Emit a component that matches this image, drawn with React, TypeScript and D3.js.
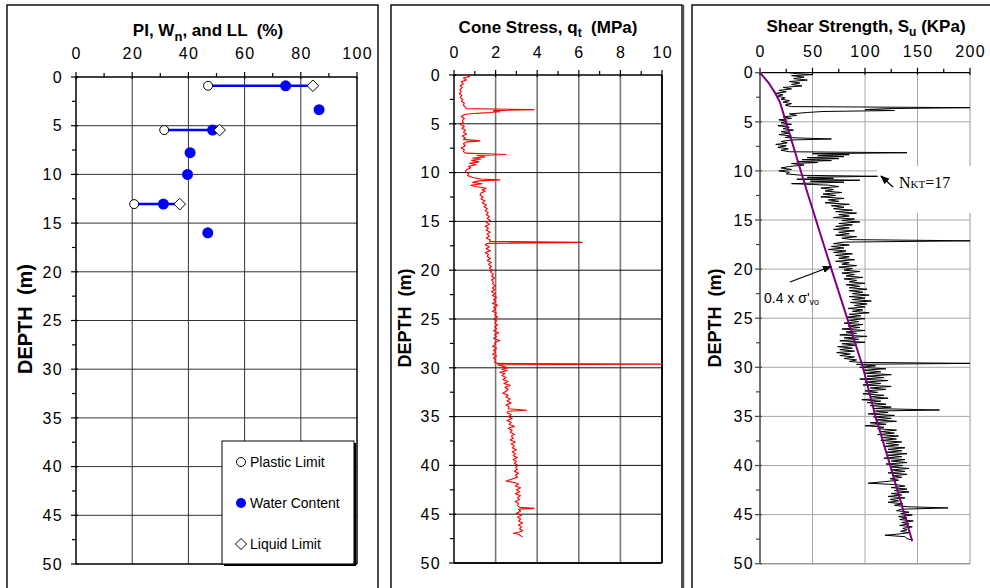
import React from "react";
import * as d3 from "d3";

// ---------- DATA ----------
const atterbergDepth = [0.9, 5.45, 13.05];
const plasticLimit = [47, 31.4, 20.7];
const liquidLimit = [84.3, 51.1, 36.9];
const waterContentDepth = [0.9, 3.35, 5.45, 7.77, 10.0, 13.05, 16.0];
const waterContent = [74.6, 86.5, 48.6, 40.6, 39.7, 31.1, 46.9];

const pctTicks = [0, 20, 40, 60, 80, 100];
const qtTicks = [0, 2, 4, 6, 8, 10];
const suTicks = [0, 50, 100, 150, 200];
const depthTicks = [0, 5, 10, 15, 20, 25, 30, 35, 40, 45, 50];
const legendLabels = ["Plastic Limit", "Water Content", "Liquid Limit"];

// [depth (m), qt (MPa)]
const coneStressTrace: [number, number][] = [
  [0.0, 0.55], [0.15, 0.75], [0.3, 0.45], [0.5, 0.6], [0.7, 0.35], [0.9, 0.45], [1.1, 0.3], [1.3, 0.4],
  [1.5, 0.28], [1.7, 0.35], [1.9, 0.25], [2.1, 0.38], [2.3, 0.3], [2.5, 0.42], [2.7, 0.35], [2.9, 0.5],
  [3.1, 0.45], [3.3, 0.55], [3.45, 0.6], [3.55, 3.85], [3.65, 1.9], [3.75, 2.2], [3.85, 1.7], [3.95, 0.9],
  [4.05, 0.5], [4.25, 0.35], [4.45, 0.5], [4.65, 0.4], [4.85, 0.45], [5.05, 0.3], [5.25, 0.5], [5.45, 0.38],
  [5.65, 0.55], [5.85, 0.45], [6.05, 0.6], [6.25, 0.4], [6.45, 0.55], [6.6, 0.45], [6.75, 1.25], [6.85, 0.6],
  [7.05, 0.45], [7.25, 0.55], [7.45, 0.35], [7.65, 0.5], [7.85, 0.45], [8.0, 0.55], [8.15, 2.5], [8.25, 1.1],
  [8.4, 1.5], [8.5, 0.9], [8.6, 1.3], [8.75, 0.85], [8.9, 1.2], [9.05, 0.75], [9.2, 1.05], [9.35, 0.7],
  [9.5, 0.8], [9.7, 0.6], [9.9, 0.55], [10.1, 0.7], [10.3, 0.65], [10.5, 0.9], [10.65, 1.3], [10.75, 2.2],
  [10.85, 1.2], [11.0, 0.9], [11.15, 1.35], [11.3, 0.8], [11.45, 1.1], [11.6, 1.55], [11.75, 1.35], [11.9, 1.5],
  [12.1, 1.3], [12.3, 1.25], [12.5, 1.4], [12.7, 1.3], [12.9, 1.5], [13.1, 1.35], [13.3, 1.55], [13.5, 1.45],
  [13.7, 1.6], [13.9, 1.5], [14.1, 1.65], [14.3, 1.55], [14.5, 1.7], [14.7, 1.6], [14.9, 1.75], [15.1, 1.55],
  [15.3, 1.7], [15.5, 1.5], [15.7, 1.65], [15.9, 1.55], [16.1, 1.75], [16.3, 1.6], [16.5, 1.7], [16.7, 1.55],
  [16.9, 1.75], [17.05, 1.7], [17.15, 6.15], [17.25, 1.6], [17.4, 1.5], [17.6, 1.7], [17.8, 1.55], [18.0, 1.75],
  [18.2, 1.5], [18.4, 1.65], [18.6, 1.6], [18.8, 1.75], [19.0, 1.6], [19.2, 1.8], [19.4, 1.65], [19.6, 1.8],
  [19.8, 1.7], [20.0, 1.85], [20.2, 1.75], [20.4, 1.9], [20.6, 1.8], [20.8, 1.95], [21.0, 1.8], [21.2, 1.9],
  [21.4, 1.85], [21.6, 2.0], [21.8, 1.85], [22.0, 1.95], [22.2, 1.8], [22.4, 2.0], [22.6, 1.85], [22.8, 2.05],
  [23.0, 1.9], [23.2, 2.0], [23.4, 1.85], [23.6, 2.1], [23.8, 1.9], [24.0, 2.0], [24.2, 1.85], [24.4, 2.05],
  [24.6, 1.95], [24.8, 2.1], [25.0, 1.9], [25.2, 2.05], [25.4, 1.95], [25.6, 2.1], [25.8, 1.95], [26.0, 2.05],
  [26.2, 1.9], [26.4, 2.15], [26.6, 1.95], [26.8, 2.05], [27.0, 1.9], [27.2, 2.2], [27.4, 1.95], [27.6, 2.0],
  [27.8, 1.85], [28.0, 2.05], [28.2, 1.9], [28.4, 2.0], [28.6, 1.85], [28.8, 2.05], [29.0, 1.9], [29.2, 2.0],
  [29.4, 1.95], [29.55, 2.05], [29.62, 10], [29.7, 2.1], [29.85, 2.35], [30.0, 2.6], [30.15, 2.3], [30.3, 2.55],
  [30.45, 2.2], [30.6, 2.45], [30.8, 2.3], [31.0, 2.5], [31.2, 2.35], [31.4, 2.6], [31.6, 2.4], [31.8, 2.7],
  [32.0, 2.45], [32.2, 2.6], [32.4, 2.5], [32.6, 2.35], [32.8, 2.6], [33.0, 2.5], [33.2, 2.7], [33.4, 2.55],
  [33.6, 2.75], [33.8, 2.5], [34.0, 2.65], [34.2, 2.6], [34.35, 3.5], [34.45, 2.6], [34.6, 2.55], [34.8, 2.75],
  [35.0, 2.6], [35.2, 2.8], [35.4, 2.55], [35.6, 2.75], [35.8, 2.65], [36.0, 2.9], [36.2, 2.6], [36.4, 2.8],
  [36.6, 2.7], [36.8, 2.9], [37.0, 2.75], [37.2, 2.85], [37.4, 2.7], [37.6, 2.95], [37.8, 2.75], [38.0, 2.9],
  [38.2, 2.8], [38.4, 3.0], [38.6, 2.8], [38.8, 2.95], [39.0, 2.85], [39.2, 3.05], [39.4, 2.85], [39.6, 3.0],
  [39.8, 2.9], [40.0, 3.1], [40.2, 2.95], [40.4, 3.05], [40.6, 2.9], [40.8, 3.1], [41.0, 2.95], [41.2, 3.05],
  [41.4, 2.8], [41.6, 2.5], [41.75, 2.9], [41.9, 3.1], [42.1, 2.95], [42.3, 3.2], [42.5, 3.0], [42.7, 3.15],
  [42.9, 2.95], [43.1, 3.2], [43.3, 3.05], [43.5, 3.15], [43.7, 2.95], [43.9, 3.1], [44.1, 3.05], [44.3, 3.15],
  [44.4, 3.85], [44.5, 3.1], [44.7, 3.2], [44.9, 3.0], [45.1, 3.25], [45.3, 3.05], [45.5, 3.2], [45.7, 3.1],
  [45.9, 3.3], [46.1, 3.1], [46.3, 3.25], [46.5, 3.15], [46.7, 3.3], [46.85, 3.1], [46.95, 2.85], [47.05, 3.1],
  [47.2, 3.2], [47.35, 3.3],
];

// [depth (m), Su (kPa)]
const shearStrengthTrace: [number, number][] = [
  [0.0, 28], [0.1, 35], [0.2, 50], [0.3, 30], [0.45, 42], [0.6, 32], [0.75, 45], [0.9, 28], [1.05, 38],
  [1.2, 30], [1.35, 40], [1.5, 22], [1.65, 30], [1.8, 18], [1.95, 25], [2.1, 15], [2.25, 22], [2.4, 16],
  [2.55, 24], [2.7, 20], [2.85, 28], [3.0, 22], [3.15, 30], [3.3, 24], [3.45, 30], [3.56, 200], [3.65, 125],
  [3.75, 100], [3.85, 128], [3.95, 60], [4.05, 45], [4.2, 28], [4.35, 35], [4.5, 22], [4.65, 30], [4.8, 18],
  [4.95, 26], [5.1, 20], [5.25, 30], [5.4, 17], [5.55, 28], [5.7, 22], [5.85, 32], [6.0, 20], [6.15, 28],
  [6.3, 18], [6.45, 30], [6.6, 24], [6.75, 68], [6.85, 30], [7.0, 20], [7.15, 26], [7.3, 15], [7.45, 25],
  [7.6, 17], [7.75, 27], [7.9, 20], [8.05, 28], [8.15, 140], [8.25, 50], [8.35, 85], [8.45, 55], [8.55, 80],
  [8.65, 45], [8.75, 75], [8.85, 40], [8.95, 68], [9.05, 35], [9.15, 55], [9.25, 30], [9.4, 42], [9.55, 28],
  [9.7, 20], [9.85, 30], [10.0, 18], [10.15, 28], [10.3, 25], [10.45, 40], [10.55, 112], [10.65, 45],
  [10.75, 70], [10.85, 35], [10.95, 95], [11.05, 48], [11.15, 80], [11.3, 30], [11.45, 65], [11.6, 75],
  [11.75, 58], [11.9, 70], [12.05, 62], [12.2, 78], [12.35, 60], [12.5, 72], [12.65, 58], [12.8, 80],
  [12.95, 65], [13.1, 75], [13.25, 62], [13.4, 85], [13.55, 68], [13.7, 80], [13.85, 70], [14.0, 88],
  [14.15, 72], [14.3, 92], [14.45, 75], [14.6, 85], [14.75, 70], [14.9, 90], [15.05, 78], [15.2, 95],
  [15.35, 75], [15.5, 88], [15.65, 72], [15.8, 85], [15.95, 70], [16.1, 90], [16.25, 75], [16.4, 85],
  [16.55, 72], [16.7, 92], [16.85, 78], [17.0, 88], [17.12, 200], [17.25, 80], [17.4, 70], [17.55, 85],
  [17.7, 68], [17.85, 80], [18.0, 65], [18.15, 82], [18.3, 70], [18.45, 88], [18.6, 72], [18.75, 85],
  [18.9, 75], [19.05, 90], [19.2, 72], [19.35, 85], [19.5, 78], [19.65, 92], [19.8, 75], [19.95, 88],
  [20.1, 80], [20.25, 95], [20.4, 78], [20.55, 90], [20.7, 82], [20.85, 98], [21.0, 80], [21.15, 92],
  [21.3, 85], [21.45, 100], [21.6, 82], [21.75, 95], [21.9, 85], [22.05, 102], [22.2, 85], [22.35, 98],
  [22.5, 88], [22.65, 104], [22.8, 85], [22.95, 100], [23.1, 88], [23.25, 106], [23.4, 86], [23.55, 102],
  [23.7, 90], [23.85, 100], [24.0, 84], [24.15, 98], [24.3, 88], [24.45, 104], [24.6, 85], [24.75, 96],
  [24.9, 82], [25.05, 100], [25.2, 85], [25.35, 94], [25.5, 80], [25.65, 98], [25.8, 84], [25.95, 95],
  [26.1, 78], [26.25, 100], [26.4, 82], [26.55, 92], [26.7, 76], [26.85, 102], [27.0, 80], [27.15, 94],
  [27.3, 76], [27.45, 100], [27.6, 78], [27.75, 92], [27.9, 74], [28.05, 88], [28.2, 76], [28.35, 90],
  [28.5, 73], [28.65, 86], [28.8, 76], [28.95, 90], [29.1, 80], [29.25, 92], [29.4, 85], [29.5, 95],
  [29.6, 200], [29.7, 92], [29.85, 110], [30.0, 95], [30.15, 120], [30.3, 98], [30.45, 115], [30.6, 100],
  [30.75, 125], [30.9, 102], [31.05, 118], [31.2, 95], [31.35, 122], [31.5, 100], [31.65, 115], [31.8, 98],
  [31.95, 125], [32.1, 105], [32.25, 120], [32.4, 100], [32.55, 112], [32.7, 98], [32.85, 118], [33.0, 105],
  [33.15, 122], [33.3, 97], [33.45, 115], [33.6, 102], [33.75, 120], [33.9, 105], [34.05, 125], [34.2, 108],
  [34.35, 171], [34.45, 110], [34.6, 122], [34.75, 103], [34.9, 128], [35.05, 108], [35.2, 125], [35.35, 110],
  [35.5, 130], [35.65, 105], [35.8, 120], [35.95, 100], [36.1, 118], [36.25, 112], [36.4, 130], [36.55, 115],
  [36.7, 128], [36.85, 112], [37.0, 132], [37.15, 117], [37.3, 130], [37.45, 115], [37.6, 135], [37.75, 120],
  [37.9, 132], [38.05, 118], [38.2, 138], [38.35, 122], [38.5, 135], [38.65, 120], [38.8, 140], [38.95, 122],
  [39.1, 135], [39.25, 118], [39.4, 138], [39.55, 125], [39.7, 140], [39.85, 120], [40.0, 136], [40.15, 124],
  [40.3, 142], [40.45, 125], [40.6, 138], [40.75, 122], [40.9, 140], [41.05, 126], [41.2, 135], [41.35, 124],
  [41.5, 132], [41.65, 118], [41.8, 103], [41.95, 130], [42.1, 138], [42.25, 125], [42.4, 140], [42.55, 128],
  [42.7, 142], [42.85, 125], [43.0, 135], [43.15, 122], [43.3, 138], [43.45, 124], [43.6, 132], [43.75, 122],
  [43.9, 136], [44.05, 128], [44.2, 140], [44.32, 179], [44.45, 135], [44.6, 130], [44.75, 142], [44.9, 134],
  [45.05, 145], [45.2, 132], [45.35, 140], [45.5, 133], [45.65, 146], [45.8, 135], [45.95, 142], [46.1, 133],
  [46.25, 145], [46.4, 136], [46.55, 140], [46.7, 134], [46.85, 142], [47.0, 130], [47.1, 119], [47.25, 138],
  [47.45, 140], [47.6, 145],
];

// [depth (m), 0.4 x sigma'vo (kPa)]
const effectiveStressLine: [number, number][] = [
  [0, 0], [1, 8], [2, 14], [3, 19], [12, 44.5], [20, 68], [30, 98], [35, 110], [40, 124], [47.7, 145],
];

// ---------- STYLE ----------
const FONT = "Arial, 'Liberation Sans', Helvetica, sans-serif";

type Pt = [number, number];

function Axes(props: {
  x: d3.ScaleLinear<number, number>;
  y: d3.ScaleLinear<number, number>;
  xTicks: number[];
  xMinor: number[];
  yLabelX: number;
  xLabelY: number;
  gridV: string;
  gridVW: number;
  gridH: string;
  gridHW: number;
  leftColor: string;
  rightColor: string;
  rightW: number;
  bottomColor: string;
  bottomW: number;
}) {
  const { x, y } = props;
  const [x0, x1] = x.range();
  const [y0, y1] = y.range();
  const minorDepth = [2.5, 7.5, 12.5, 17.5, 22.5, 27.5, 32.5, 37.5, 42.5, 47.5];
  return (
    <g>
      {props.xTicks.slice(1, -1).map((t) => (
        <line key={"gv" + t} x1={x(t)} x2={x(t)} y1={y0} y2={y1} stroke={props.gridV} strokeWidth={props.gridVW} />
      ))}
      {depthTicks.slice(1, -1).map((t) => (
        <line key={"gh" + t} x1={x0} x2={x1} y1={y(t)} y2={y(t)} stroke={props.gridH} strokeWidth={props.gridHW} />
      ))}
      <line x1={x1} x2={x1} y1={y0} y2={y1} stroke={props.rightColor} strokeWidth={props.rightW} />
      <line x1={x0} x2={x1} y1={y1} y2={y1} stroke={props.bottomColor} strokeWidth={props.bottomW} />
      <line x1={x0} x2={x1} y1={y0} y2={y0} stroke="#000" strokeWidth={1.3} />
      <line x1={x0} x2={x0} y1={y0} y2={y1} stroke={props.leftColor} strokeWidth={1.5} />
      {props.xTicks.map((t) => (
        <line key={"xt" + t} x1={x(t)} x2={x(t)} y1={y0 - 5} y2={y0 + 2} stroke="#000" strokeWidth={1.2} />
      ))}
      {props.xMinor.map((t) => (
        <line key={"xm" + t} x1={x(t)} x2={x(t)} y1={y0 - 4} y2={y0} stroke="#000" strokeWidth={1.2} />
      ))}
      {depthTicks.map((t) => (
        <line key={"yt" + t} x1={x0 - 5} x2={x0 + 2} y1={y(t)} y2={y(t)} stroke={props.leftColor} strokeWidth={1.2} />
      ))}
      {minorDepth.map((t) => (
        <line key={"ym" + t} x1={x0 - 4} x2={x0} y1={y(t)} y2={y(t)} stroke={props.leftColor} strokeWidth={1.2} />
      ))}
      {props.xTicks.map((t) => (
        <text key={"xl" + t} x={x(t) + 0.7} y={props.xLabelY} textAnchor="middle" fontSize={16} letterSpacing={1.4} fontFamily={FONT} fill="#000">
          {t}
        </text>
      ))}
      {depthTicks.map((t) => (
        <text key={"yl" + t} x={props.yLabelX} y={y(t)} dy="0.36em" textAnchor="end" fontSize={16} letterSpacing={1.4} fontFamily={FONT} fill="#000">
          {t}
        </text>
      ))}
    </g>
  );
}

function DepthLabel({ cx, cy, size }: { cx: number; cy: number; size: number }) {
  return (
    <text
      transform={`translate(${cx},${cy}) rotate(-90)`}
      textAnchor="middle"
      dominantBaseline="central"
      fontSize={size}
      fontWeight="bold"
      fontFamily={FONT}
      style={{ whiteSpace: "pre" }}
    >
      {"DEPTH  (m)"}
    </text>
  );
}

export default function App() {
  // Panel 1
  const x1 = d3.scaleLinear().domain([0, 100]).range([76, 357]);
  const y1 = d3.scaleLinear().domain([0, 50]).range([77, 564]);
  // Panel 2
  const x2 = d3.scaleLinear().domain([0, 10]).range([454, 662]);
  const y2 = d3.scaleLinear().domain([0, 50]).range([75, 563]);
  // Panel 3
  const x3 = d3.scaleLinear().domain([0, 200]).range([760, 970]);
  const y3 = d3.scaleLinear().domain([0, 50]).range([72.7, 563.7]);

  const qtLine = d3
    .line<Pt>()
    .x((d) => x2(d[1]))
    .y((d) => y2(d[0]))(coneStressTrace) as string;
  const suLine = d3
    .line<Pt>()
    .x((d) => x3(d[1]))
    .y((d) => y3(d[0]))(shearStrengthTrace) as string;
  const sigLine = d3
    .line<Pt>()
    .x((d) => x3(d[1]))
    .y((d) => y3(d[0]))(effectiveStressLine) as string;

  const diamond = (cx: number, cy: number, r: number) =>
    `M${cx},${cy - r}L${cx + r},${cy}L${cx},${cy + r}L${cx - r},${cy}Z`;

  const lx = 241;
  const legendY = [462, 503, 544];

  return (
    <svg
      width={990}
      height={588}
      viewBox="0 0 990 588"
      style={{ position: "absolute", left: 0, top: 0, background: "#fff" }}
      fontFamily={FONT}
    >
      <rect x={0} y={0} width={990} height={588} fill="#fff" />
      <defs>
        <marker id="ah" viewBox="0 0 10 10" refX="9" refY="5" markerWidth="7" markerHeight="7" orient="auto-start-reverse">
          <path d="M0,1 L10,5 L0,9 Z" fill="#000" />
        </marker>
      </defs>

      {/* Panel frames */}
      <rect x={7} y={5} width={371} height={600} fill="none" stroke="#000" strokeWidth={1.4} />
      <rect x={391} y={5} width={291} height={600} fill="none" stroke="#000" strokeWidth={1.4} />
      <line x1={683.5} x2={683.5} y1={5} y2={588} stroke="#555" strokeWidth={1.5} />
      <rect x={692} y={5} width={320} height={600} fill="none" stroke="#000" strokeWidth={1.4} />

      {/* ---------- Panel 1 ---------- */}
      <text x={208} y={36} textAnchor="middle" fontSize={17} fontWeight="bold" style={{ whiteSpace: "pre" }}>
        <tspan>PI, W</tspan>
        <tspan fontSize={13} dy={5}>n</tspan>
        <tspan dy={-5}>{", and LL  (%)"}</tspan>
      </text>
      <Axes
        x={x1}
        y={y1}
        xTicks={pctTicks}
        xMinor={[10, 30, 50, 70, 90]}
        yLabelX={63}
        xLabelY={59}
        gridV="#333"
        gridVW={1}
        gridH="#333"
        gridHW={1}
        leftColor="#000"
        rightColor="#000"
        rightW={1.5}
        bottomColor="#000"
        bottomW={1.5}
      />
      <DepthLabel cx={25} cy={319} size={20} />

      {atterbergDepth.map((d, i) => (
        <line key={"al" + i} x1={x1(plasticLimit[i])} x2={x1(liquidLimit[i])} y1={y1(d)} y2={y1(d)} stroke="#0000ff" strokeWidth={2.5} />
      ))}
      {waterContentDepth.map((d, i) => (
        <circle key={"wc" + i} cx={x1(waterContent[i])} cy={y1(d)} r={5.5} fill="#0000ff" />
      ))}
      {atterbergDepth.map((d, i) => (
        <circle key={"pl" + i} cx={x1(plasticLimit[i])} cy={y1(d)} r={4.5} fill="#fff" stroke="#000" strokeWidth={1} />
      ))}
      {atterbergDepth.map((d, i) => (
        <path key={"ll" + i} d={diamond(x1(liquidLimit[i]), y1(d), 5.8)} fill="#fff" stroke="#000" strokeWidth={1} />
      ))}

      {/* Legend */}
      <rect x={224} y={443} width={132} height={123} fill="#000" />
      <rect x={222} y={441} width={132} height={123} fill="#fff" stroke="#000" strokeWidth={1} />
      <circle cx={lx} cy={legendY[0]} r={4.5} fill="#fff" stroke="#000" strokeWidth={1} />
      <circle cx={lx} cy={legendY[1]} r={5} fill="#0000ff" />
      <path d={diamond(lx, legendY[2], 5.5)} fill="#fff" stroke="#000" strokeWidth={1} />
      {legendLabels.map((t, i) => (
        <text key={t} x={250} y={legendY[i]} dy="0.36em" fontSize={14}>
          {t}
        </text>
      ))}

      {/* ---------- Panel 2 ---------- */}
      <text x={548} y={32.5} textAnchor="middle" fontSize={17} fontWeight="bold" style={{ whiteSpace: "pre" }}>
        <tspan>Cone Stress, q</tspan>
        <tspan fontSize={12} dy={4}>t</tspan>
        <tspan dy={-4}>{"  (MPa)"}</tspan>
      </text>
      <Axes
        x={x2}
        y={y2}
        xTicks={qtTicks}
        xMinor={[1, 3, 5, 7, 9]}
        yLabelX={441}
        xLabelY={57.5}
        gridV="#777"
        gridVW={1.6}
        gridH="#111"
        gridHW={1}
        leftColor="#000"
        rightColor="#111"
        rightW={2}
        bottomColor="#111"
        bottomW={2}
      />
      <DepthLabel cx={405} cy={318} size={18} />
      <path d={qtLine} fill="none" stroke="#ff0000" strokeWidth={1.1} strokeLinejoin="round" />

      {/* ---------- Panel 3 ---------- */}
      <text x={866} y={32} textAnchor="middle" fontSize={17} fontWeight="bold" style={{ whiteSpace: "pre" }}>
        <tspan>Shear Strength, S</tspan>
        <tspan fontSize={12} dy={4}>u</tspan>
        <tspan dy={-4}>{" (KPa)"}</tspan>
      </text>
      <Axes
        x={x3}
        y={y3}
        xTicks={suTicks}
        xMinor={[25, 75, 125, 175]}
        yLabelX={754}
        xLabelY={57}
        gridV="#a8a8a8"
        gridVW={1}
        gridH="#a8a8a8"
        gridHW={1}
        leftColor="#444"
        rightColor="#a8a8a8"
        rightW={1.2}
        bottomColor="#999"
        bottomW={1.6}
      />
      <DepthLabel cx={714.5} cy={318} size={18} />
      {/* label box covering grid */}
      <rect x={877} y={166} width={110} height={47} fill="#fff" />
      <path d={suLine} fill="none" stroke="#000" strokeWidth={1} strokeLinejoin="round" />
      <path d={sigLine} fill="none" stroke="#800080" strokeWidth={2} />

      {/* Annotations */}
      <line x1={893} y1={187} x2={881} y2={176} stroke="#000" strokeWidth={1.3} markerEnd="url(#ah)" />
      <text x={899} y={188} fontFamily="'Times New Roman', 'Liberation Serif', serif" fontSize={16}>
        <tspan>N</tspan>
        <tspan fontSize={11}>KT</tspan>
        <tspan>=17</tspan>
      </text>
      <line x1={790} y1={282} x2={831} y2={266.5} stroke="#000" strokeWidth={1.3} markerEnd="url(#ah)" />
      <text x={764} y={303} fontSize={14}>
        <tspan>0.4 x σ'</tspan>
        <tspan fontSize={9} dy={2}>vo</tspan>
      </text>
    </svg>
  );
}
